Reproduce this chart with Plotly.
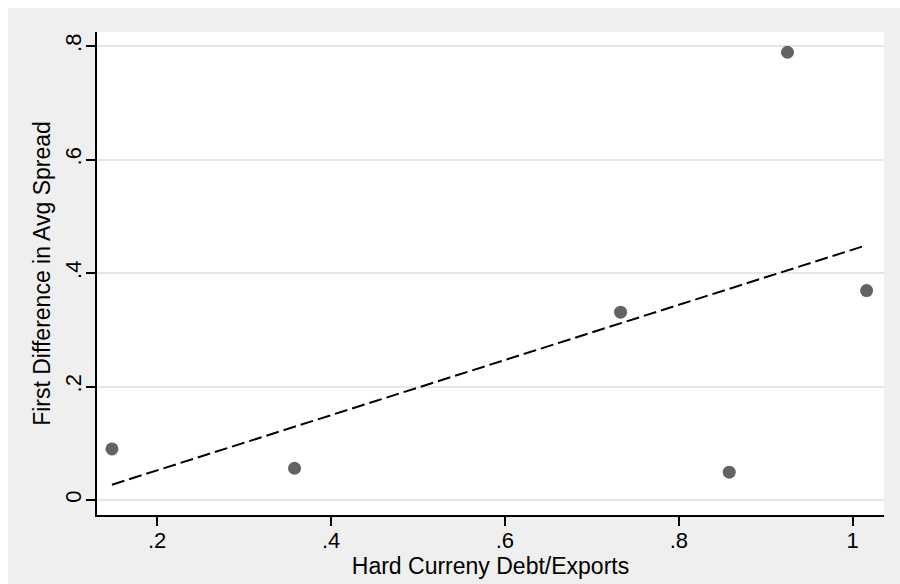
import plotly.graph_objects as go

# Data
debt_exports = [0.148, 0.358, 0.733, 0.858, 0.925, 1.016]
spread_diff = [0.090, 0.056, 0.331, 0.049, 0.789, 0.369]

fit_x = [0.148, 1.016]
fit_y = [0.027, 0.449]

x_ticks = [0.2, 0.4, 0.6, 0.8, 1.0]
x_ticktext = [".2", ".4", ".6", ".8", "1"]
y_ticks = [0.0, 0.2, 0.4, 0.6, 0.8]
y_ticktext = ["0", ".2", ".4", ".6", ".8"]

FONT = "Liberation Sans, Arial, sans-serif"

fig = go.Figure()
fig.add_trace(go.Scatter(
    x=debt_exports, y=spread_diff, mode="markers",
    marker=dict(color="#636363", size=13, line=dict(width=0)),
    showlegend=False, hoverinfo="skip"))
fig.add_trace(go.Scatter(
    x=fit_x, y=fit_y, mode="lines",
    line=dict(color="black", width=2, dash="13px,5px"),
    showlegend=False, hoverinfo="skip"))

fig.update_layout(
    width=892, height=576,
    margin=dict(l=89, r=16, t=24, b=69, pad=0),
    paper_bgcolor="#efefef", plot_bgcolor="white",
    font=dict(family=FONT, size=22, color="black"),
    xaxis=dict(
        range=[0.1308, 1.036], tickvals=x_ticks, ticktext=x_ticktext,
        ticks="outside", ticklen=9, tickwidth=1.5, tickcolor="black",
        showline=True, linecolor="black", linewidth=1.5,
        showgrid=False, zeroline=False, ticklabelstandoff=-4,
        title=dict(text="Hard Curreny Debt/Exports", standoff=0,
                   font=dict(size=23)),
        tickfont=dict(size=22)),
    yaxis=dict(
        range=[-0.0264, 0.8247], tickvals=y_ticks, ticktext=y_ticktext,
        tickangle=-90, ticklabelstandoff=-4,
        ticks="outside", ticklen=9, tickwidth=1.5, tickcolor="black",
        showline=True, linecolor="black", linewidth=1.5,
        showgrid=True, gridcolor="#e6e6e6", gridwidth=1.5, zeroline=False,
        title=dict(text="First Difference in Avg Spread", standoff=4,
                   font=dict(size=23)),
        tickfont=dict(size=22)),
)

fig.write_html("out.html",
               post_script="document.body.style.margin='8px 0 0 8px';"
                           "document.body.style.overflow='hidden';")
